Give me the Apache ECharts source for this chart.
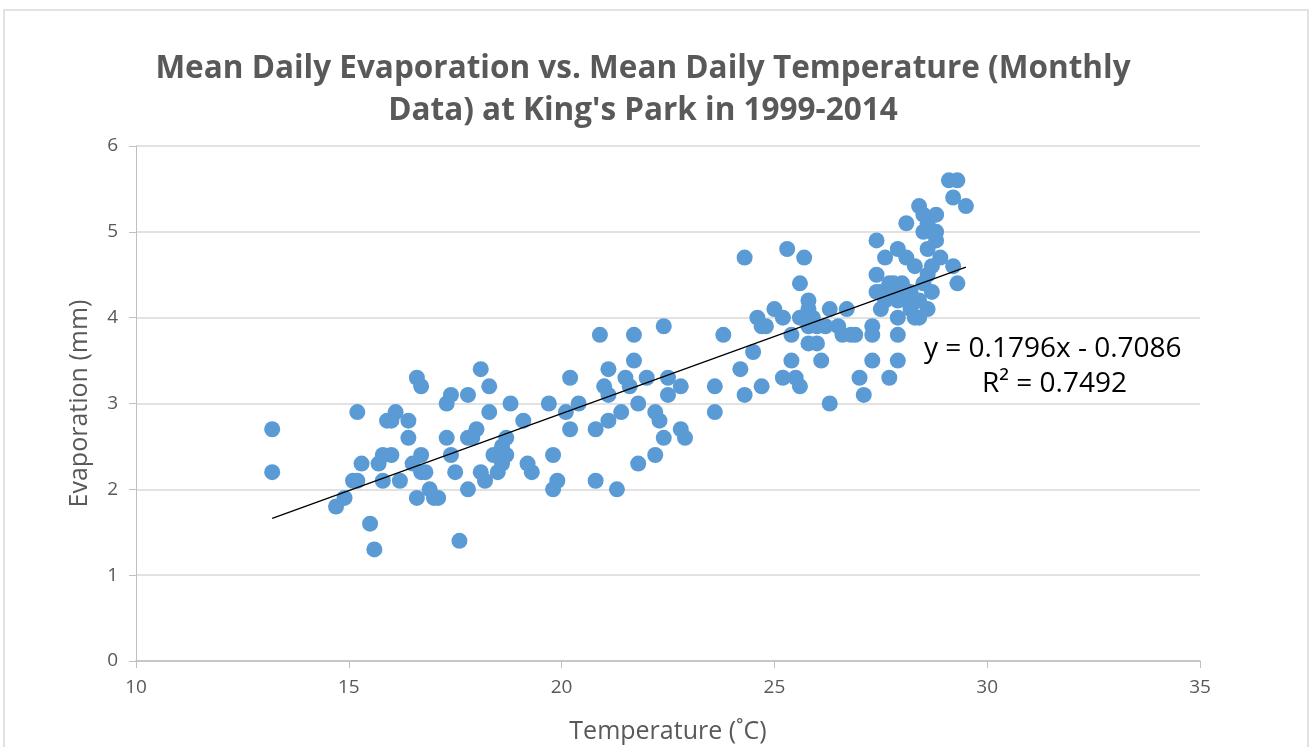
<!DOCTYPE html>
<html><head><meta charset="utf-8">
<script src="https://cdn.jsdelivr.net/npm/echarts@6/dist/echarts.min.js"></script>
<style>html,body{margin:0;padding:0;background:#fff;overflow:hidden}#c{width:1312px;height:747px}</style>
</head><body><div id="c"></div>
<script>
const temperature = [13.2,13.2,14.7,14.9,15.1,15.2,15.2,15.3,15.5,15.6,15.7,15.8,15.8,15.9,16.0,16.0,16.1,16.2,
16.4,16.4,16.5,16.6,16.6,16.7,16.7,16.7,16.8,16.9,17.0,17.1,
17.3,17.3,17.4,17.4,17.5,17.6,17.8,17.8,17.8,17.9,18.0,18.1,18.1,18.2,18.3,18.3,18.4,18.5,18.5,18.6,18.6,18.7,18.7,18.8,
19.1,19.2,19.3,19.7,19.8,19.8,19.9,20.1,20.2,20.2,20.4,
20.8,20.8,20.9,21.0,21.1,21.1,21.1,21.3,21.4,21.5,21.6,21.7,21.7,21.8,21.8,22.0,22.2,22.2,22.3,22.4,22.4,22.5,22.5,22.8,22.8,22.9,
23.6,23.6,23.8,24.2,24.3,24.3,24.5,24.6,24.7,24.7,24.8,25.0,25.2,25.2,25.3,25.4,25.4,25.5,25.6,25.6,25.6,25.7,25.8,25.8,25.8,25.8,25.9,26.0,26.0,26.1,26.2,26.3,26.3,26.5,26.6,26.7,26.8,26.9,27.0,27.1,
27.3,27.3,27.3,27.4,27.4,27.4,27.5,27.5,27.6,27.6,27.7,27.7,27.8,27.8,27.9,27.9,27.9,27.9,27.9,28.0,28.0,28.1,28.1,28.1,28.2,28.2,28.3,28.3,28.4,28.4,28.4,28.5,28.5,28.5,28.6,28.6,28.6,28.6,28.7,28.7,28.7,28.8,28.8,28.8,28.9,29.1,29.2,29.2,29.3,29.3,29.5];
const evaporation = [2.7,2.2,1.8,1.9,2.1,2.1,2.9,2.3,1.6,1.3,2.3,2.1,2.4,2.8,2.8,2.4,2.9,2.1,
2.8,2.6,2.3,3.3,1.9,3.2,2.4,2.2,2.2,2.0,1.9,1.9,
3.0,2.6,3.1,2.4,2.2,1.4,3.1,2.6,2.0,2.6,2.7,3.4,2.2,2.1,3.2,2.9,2.4,2.2,2.4,2.5,2.3,2.6,2.4,3.0,
2.8,2.3,2.2,3.0,2.4,2.0,2.1,2.9,3.3,2.7,3.0,
2.7,2.1,3.8,3.2,3.4,3.1,2.8,2.0,2.9,3.3,3.2,3.8,3.5,3.0,2.3,3.3,2.9,2.4,2.8,3.9,2.6,3.3,3.1,3.2,2.7,2.6,
3.2,2.9,3.8,3.4,4.7,3.1,3.6,4.0,3.9,3.2,3.9,4.1,3.3,4.0,4.8,3.8,3.5,3.3,4.4,4.0,3.2,4.7,4.2,4.1,3.9,3.7,4.0,3.9,3.7,3.5,3.9,4.1,3.0,3.9,3.8,4.1,3.8,3.8,3.3,3.1,
3.9,3.8,3.5,4.9,4.5,4.3,4.1,4.3,4.7,4.2,4.4,3.3,4.3,4.4,4.8,4.2,4.0,3.8,3.5,4.4,4.3,5.1,4.7,4.2,4.3,4.1,4.6,4.0,5.3,4.2,4.0,5.2,5.0,4.4,5.1,4.8,4.5,4.1,4.6,4.3,5.0,5.2,4.9,5.0,4.7,5.6,5.4,4.6,5.6,4.4,5.3];
const xTicks = [10,15,20,25,30,35];
const yTicks = [0,1,2,3,4,5,6];
const slope = 0.1796, intercept = -0.7086, r2 = 0.7492;

const points = temperature.map((t,i)=>[t, evaporation[i]]);
const xmin = Math.min(...temperature), xmax = Math.max(...temperature);
const trend = [[xmin, slope*xmin+intercept],[xmax, slope*xmax+intercept]];
const FONT = "'Open Sans', 'Liberation Sans', sans-serif";
const chart = echarts.init(document.getElementById('c'), null, {renderer:'canvas', width:1312, height:747});
chart.setOption({
  animation:false,
  backgroundColor:'#fff',
  title:{
    text:'Mean Daily Evaporation vs. Mean Daily Temperature (Monthly\nData) at King\'s Park in 1999-2014',
    left:638, top:43, textAlign:'center',
    textStyle:{fontFamily:FONT, fontWeight:'bold', fontSize:31.5, color:'#595959', lineHeight:42}
  },
  grid:{left:136, right:112, top:146, bottom:86, containLabel:false, outerBoundsMode:'none'},
  xAxis:{
    type:'value', min:xTicks[0], max:xTicks[xTicks.length-1], interval:5,
    name:'Temperature (˚C)', nameLocation:'middle', nameGap:58,
    nameTextStyle:{fontFamily:FONT, fontSize:25, color:'#595959'},
    axisLine:{show:true, lineStyle:{color:'#bfbfbf', width:1.5}},
    axisTick:{show:true, length:7, lineStyle:{color:'#bfbfbf'}},
    axisLabel:{fontFamily:FONT, fontSize:19, color:'#595959', margin:17},
    splitLine:{show:false}
  },
  yAxis:{
    type:'value', min:yTicks[0], max:yTicks[yTicks.length-1], interval:1,
    name:'Evaporation (mm)', nameLocation:'middle', nameGap:44,
    nameTextStyle:{fontFamily:FONT, fontSize:25, color:'#595959'},
    axisLine:{show:true, lineStyle:{color:'#bfbfbf', width:1}},
    axisTick:{show:true, length:7, lineStyle:{color:'#bfbfbf'}},
    axisLabel:{fontFamily:FONT, fontSize:19, color:'#595959', margin:18},
    splitLine:{show:true, lineStyle:{color:'#d9d9d9', width:1.5}}
  },
  series:[
    {type:'scatter', data:points, symbol:'circle', symbolSize:16,
     itemStyle:{color:'#5b9bd5', opacity:1}, z:2},
    {type:'line', data:trend, symbol:'none', lineStyle:{color:'#000', width:1.3}, z:3}
  ],
  graphic:[
    {type:'rect', shape:{x:4, y:10, width:1304, height:745}, style:{fill:'none', stroke:'#d9d9d9', lineWidth:1.5}, silent:true},
    {type:'text', left:924, top:335, style:{text:'y = 0.1796x - 0.7086', fontFamily:FONT, fontSize:28, fill:'#000'}},
    {type:'text', left:982, top:370, style:{text:'R² = ' + r2.toFixed(4), fontFamily:FONT, fontSize:28, fill:'#000'}}
  ]
});
</script></body></html>
